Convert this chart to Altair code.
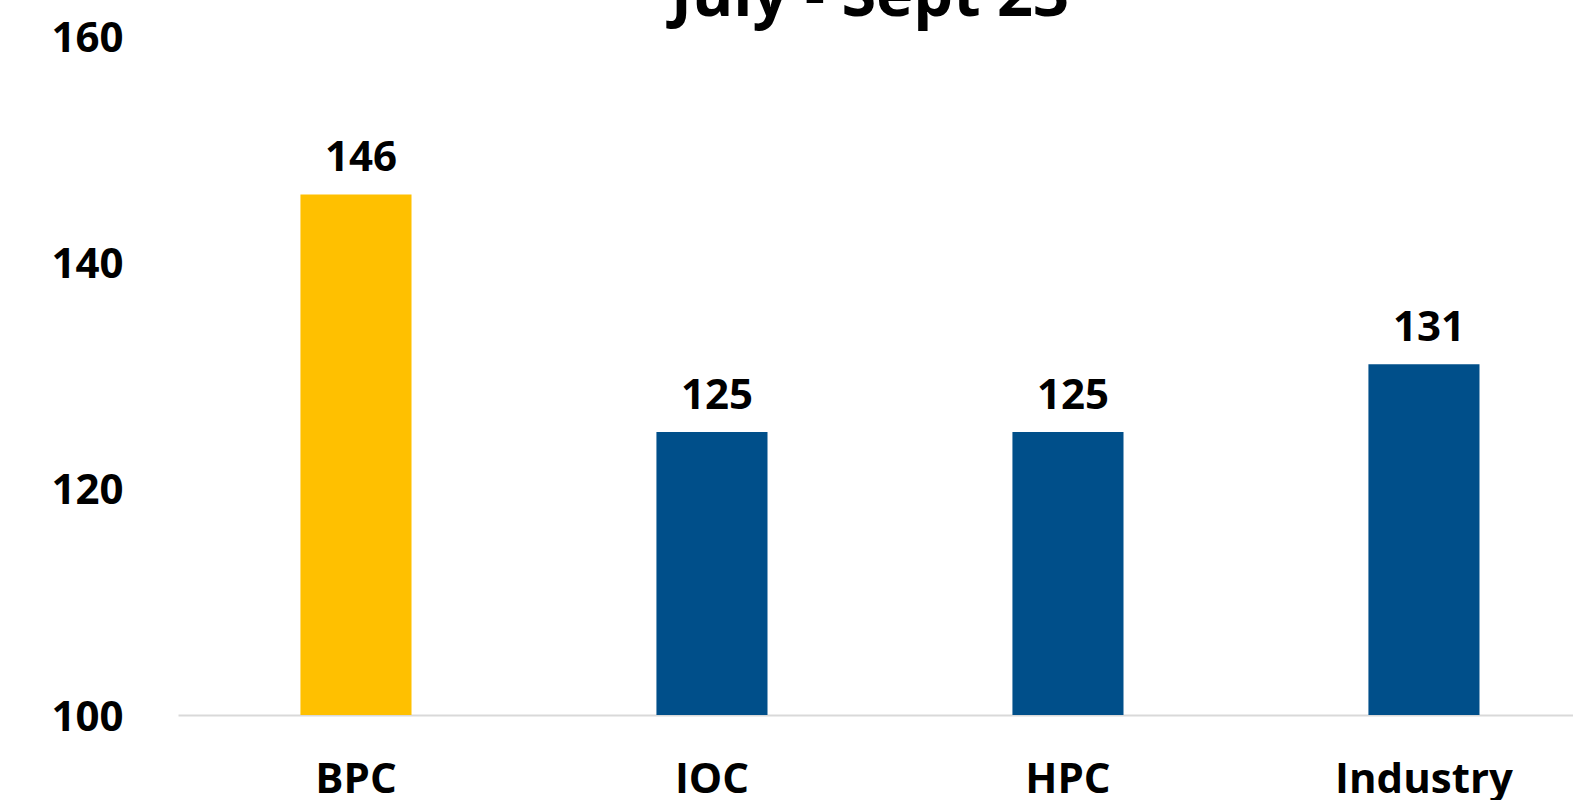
import altair as alt
import pandas as pd

categories = ["BPC", "IOC", "HPC", "Industry"]
values = [146, 125, 125, 131]
bar_colors = ["#FFC000", "#004F8A", "#004F8A", "#004F8A"]
y_ticks = [100, 120, 140, 160]
title_text = "July - Sept 23"

df = pd.DataFrame({"company": categories, "value": values, "color": bar_colors})

FONT = "Open Sans"

x_enc = alt.X(
    "company:N",
    sort=categories,
    scale=alt.Scale(paddingInner=0.688, paddingOuter=0.3033, align=0.567, round=False),
    axis=alt.Axis(
        title=None, labelAngle=0, ticks=False, tickSize=0, labelPadding=44,
        labelFont=FONT, labelFontSize=42, labelFontWeight="bold", labelColor="#000000",
        domain=True, domainColor="#D9D9D9", domainWidth=2,
    ),
)
y_scale = alt.Scale(domain=[100, 160], zero=False, nice=False)

bars = alt.Chart(df).mark_bar().encode(
    x=x_enc,
    y=alt.Y(
        "value:Q",
        scale=y_scale,
        axis=alt.Axis(
            title=None, values=y_ticks, grid=False, domain=False, ticks=False, tickSize=0,
            labelPadding=55, labelFont=FONT, labelFontSize=42, labelFontWeight="bold",
            labelColor="#000000", labelOffset=2,
        ),
    ),
    y2=alt.datum(100),
    color=alt.Color("color:N", scale=None),
)

labels = alt.Chart(df).mark_text(
    font=FONT, fontSize=42, fontWeight="bold", color="#000000", baseline="alphabetic",
    dy=-23, dx=5,
).encode(
    x=alt.X("company:N", sort=categories),
    y=alt.Y("value:Q", scale=y_scale),
    text=alt.Text("value:Q"),
)

title = alt.Chart(pd.DataFrame({"t": [title_text]})).mark_text(
    font=FONT, fontSize=63, fontWeight="bold", color="#000000", baseline="alphabetic", align="center"
).encode(
    x=alt.value(692),
    y=alt.value(-20),
    text="t:N",
)

chart = alt.layer(bars, labels, title).properties(
    width=1395,
    height=679,
    autosize=alt.AutoSizeParams(type="none"),
    padding={"left": 178, "top": 36, "right": 0, "bottom": 85},
    background="#FFFFFF",
).configure_view(strokeWidth=0, stroke="transparent")

chart.save("out.html", embed_options={"renderer": "svg", "actions": False})
